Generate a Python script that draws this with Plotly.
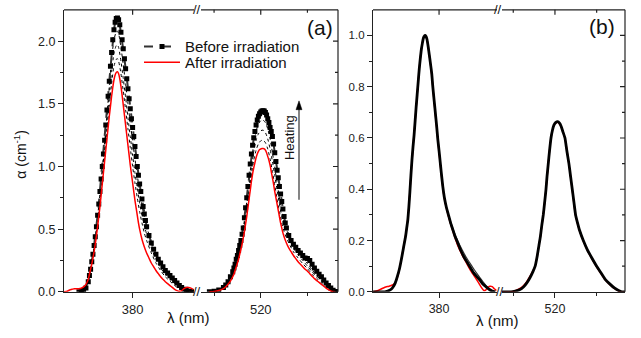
import plotly.graph_objects as go

W, H = 641, 338
FONT = "Liberation Sans, Arial, sans-serif"

# ---------------- Panel (a): absorption, band 1 (~373 nm) ----------------
before_b1_x = [357, 358, 359, 360, 361, 361.5, 362, 362.5, 363, 363.5, 364, 364.5, 365, 365.5, 366, 366.5,
               367, 367.5, 368, 368.5, 369, 369.5, 370, 370.5, 371, 371.5, 372, 372.5, 373, 373.5, 374,
               374.5, 375, 375.5, 376, 376.5, 377, 377.5, 378, 378.5, 379, 379.5, 380, 380.5, 381, 381.5,
               382, 382.5, 383, 383.5, 384, 384.5, 385, 385.5, 386, 387, 388, 389, 390, 391, 392, 393, 394,
               395, 396, 397, 398, 399, 400, 401, 402, 403, 404, 405, 406]
before_b1_y = [0.0, 0.0, 0.01, 0.03, 0.08, 0.13, 0.18, 0.24, 0.30, 0.37, 0.44, 0.52, 0.61, 0.70, 0.80, 0.90,
               1.00, 1.10, 1.21, 1.33, 1.45, 1.56, 1.68, 1.80, 1.91, 2.01, 2.09, 2.15, 2.18, 2.185, 2.17,
               2.13, 2.07, 2.01, 1.94, 1.86, 1.78, 1.70, 1.62, 1.54, 1.46, 1.38, 1.31, 1.24, 1.16, 1.08,
               1.00, 0.93, 0.86, 0.80, 0.74, 0.68, 0.62, 0.57, 0.52, 0.45, 0.39, 0.34, 0.30, 0.26, 0.23, 0.20, 0.17,
               0.15, 0.13, 0.11, 0.09, 0.07, 0.05, 0.035, 0.02, 0.01, 0.005, 0.0, 0.0]

after_b1_x = [350.6, 352, 353, 354, 355, 356, 357, 358, 359, 360, 361, 361.5, 362, 362.5, 363, 363.5, 364,
              364.5, 365, 365.5, 366, 366.5, 367, 367.5, 368, 368.5, 369, 369.5, 370, 370.5, 371, 371.5,
              372, 372.5, 373, 373.5, 374, 374.5, 375, 375.5, 376, 376.5, 377, 377.5, 378, 378.5, 379,
              379.5, 380, 380.5, 381, 381.5, 382, 382.5, 383, 384, 385, 386, 387, 388, 389, 390, 391, 392,
              393, 394, 395, 396, 397, 398, 399, 400, 401, 402, 403, 404, 405, 406]
after_b1_y = [0.0, 0.005, 0.015, 0.02, 0.025, 0.025, 0.025, 0.03, 0.04, 0.06, 0.10, 0.14, 0.18, 0.22, 0.27,
              0.32, 0.38, 0.45, 0.52, 0.60, 0.68, 0.77, 0.86, 0.95, 1.04, 1.13, 1.22, 1.31, 1.40, 1.48,
              1.56, 1.63, 1.69, 1.73, 1.75, 1.755, 1.74, 1.70, 1.64, 1.57, 1.49, 1.41, 1.33, 1.25, 1.17,
              1.09, 1.01, 0.94, 0.87, 0.80, 0.73, 0.67, 0.61, 0.55, 0.50, 0.42, 0.36, 0.31, 0.27, 0.23,
              0.20, 0.17, 0.145, 0.12, 0.10, 0.08, 0.065, 0.05, 0.035, 0.02, 0.01, 0.005, 0.01, 0.025,
              0.035, 0.035, 0.03, 0.02]

heat_b1_x = [358, 360, 361, 362, 363, 364, 365, 366, 367, 368, 369, 370, 371, 372, 373, 373.5, 374, 375,
             376, 377, 378, 379, 380, 381, 382, 383, 384, 385, 386, 388, 390, 392, 394, 396, 398, 400, 402, 404]
heat1_b1_y = [0.02, 0.05, 0.10, 0.18, 0.28, 0.40, 0.55, 0.72, 0.90, 1.09, 1.29, 1.48, 1.66, 1.80, 1.855,
              1.86, 1.84, 1.74, 1.60, 1.45, 1.30, 1.15, 1.00, 0.87, 0.75, 0.64, 0.55, 0.47, 0.41, 0.31,
              0.23, 0.17, 0.12, 0.085, 0.05, 0.025, 0.01, 0.0]
heat2_b1_y = [0.015, 0.04, 0.09, 0.18, 0.29, 0.42, 0.58, 0.76, 0.95, 1.15, 1.36, 1.57, 1.76, 1.90, 1.965,
              1.97, 1.95, 1.84, 1.70, 1.55, 1.39, 1.24, 1.09, 0.95, 0.83, 0.71, 0.61, 0.53, 0.46, 0.35,
              0.26, 0.19, 0.14, 0.10, 0.065, 0.035, 0.015, 0.0]
heat3_b1_y = [0.01, 0.035, 0.085, 0.18, 0.29, 0.43, 0.60, 0.78, 0.98, 1.19, 1.41, 1.64, 1.86, 2.01, 2.075,
              2.08, 2.06, 1.95, 1.81, 1.66, 1.50, 1.35, 1.20, 1.06, 0.93, 0.80, 0.69, 0.60, 0.52, 0.40,
              0.30, 0.22, 0.16, 0.115, 0.075, 0.04, 0.02, 0.005]

# ---------------- Panel (a): absorption, band 2 (~521 nm) ----------------
before_b2_x = [498, 500, 502, 504, 505, 506, 507, 508, 508.5, 509, 509.5, 510, 510.5, 511, 511.5, 512, 512.5,
               513, 513.5, 514, 514.5, 515, 515.5, 516, 516.5, 517, 517.5, 518, 518.5, 519, 519.5, 520,
               520.5, 521, 521.5, 522, 522.5, 523, 523.5, 524, 524.5, 525, 525.5, 526, 526.5, 527, 527.5,
               528, 528.5, 529, 529.5, 530, 530.5, 531, 532, 533, 534, 535, 536, 537, 538, 539, 540, 541,
               542, 543, 544, 545, 546, 547, 548, 549, 550, 551, 552, 553]
before_b2_y = [0.0, 0.005, 0.015, 0.035, 0.055, 0.08, 0.12, 0.16, 0.19, 0.22, 0.26, 0.29, 0.33, 0.37, 0.41,
               0.46, 0.51, 0.59, 0.67, 0.75, 0.84, 0.93, 1.02, 1.10, 1.17, 1.23, 1.28, 1.33, 1.37, 1.40,
               1.42, 1.435, 1.443, 1.445, 1.443, 1.43, 1.41, 1.38, 1.35, 1.31, 1.28, 1.24, 1.18, 1.11,
               1.04, 0.97, 0.91, 0.84, 0.78, 0.72, 0.66, 0.60, 0.55, 0.51, 0.45, 0.41, 0.38, 0.355, 0.33,
               0.31, 0.29, 0.27, 0.265, 0.25, 0.22, 0.19, 0.165, 0.14, 0.12, 0.095, 0.07, 0.05, 0.03,
               0.012, 0.003, 0.0]

after_b2_x = [498, 500, 502, 504, 505, 506, 507, 508, 508.5, 509, 509.5, 510, 510.5, 511, 511.5, 512, 512.5,
              513, 513.5, 514, 514.5, 515, 515.5, 516, 516.5, 517, 517.5, 518, 518.5, 519, 519.5, 520,
              520.5, 521, 521.5, 522, 522.5, 523, 523.5, 524, 524.5, 525, 525.5, 526, 526.5, 527, 527.5,
              528, 528.5, 529, 529.5, 530, 531, 532, 533, 534, 535, 536, 537, 538, 539, 540, 541, 542,
              543, 544, 545, 546, 547, 548, 549, 550, 551, 552]
after_b2_y = [0.0, 0.003, 0.01, 0.025, 0.04, 0.06, 0.085, 0.12, 0.14, 0.17, 0.20, 0.23, 0.26, 0.30, 0.34,
              0.38, 0.43, 0.48, 0.54, 0.60, 0.67, 0.74, 0.81, 0.88, 0.94, 0.99, 1.03, 1.07, 1.10, 1.12,
              1.135, 1.14, 1.143, 1.143, 1.14, 1.13, 1.11, 1.08, 1.05, 1.01, 0.96, 0.91, 0.86, 0.80, 0.75,
              0.70, 0.65, 0.60, 0.55, 0.51, 0.47, 0.44, 0.39, 0.35, 0.32, 0.29, 0.265, 0.24, 0.22, 0.20,
              0.18, 0.165, 0.145, 0.125, 0.105, 0.09, 0.075, 0.06, 0.045, 0.03, 0.018, 0.008, 0.002, 0.0]

heat_b2_x = [500, 504, 506, 508, 510, 511, 512, 513, 514, 515, 516, 517, 518, 519, 520, 521, 522, 523, 524,
             525, 526, 527, 528, 529, 530, 532, 534, 536, 538, 540, 542, 544, 546, 548, 550, 552]
heat1_b2_y = [0.0, 0.03, 0.07, 0.14, 0.26, 0.33, 0.42, 0.52, 0.65, 0.79, 0.93, 1.05, 1.13, 1.18, 1.205,
              1.21, 1.19, 1.14, 1.06, 0.96, 0.85, 0.74, 0.64, 0.55, 0.48, 0.39, 0.32, 0.27, 0.225, 0.185,
              0.14, 0.10, 0.07, 0.04, 0.015, 0.0]
heat2_b2_y = [0.0, 0.03, 0.075, 0.15, 0.27, 0.35, 0.44, 0.55, 0.69, 0.84, 0.99, 1.12, 1.21, 1.26, 1.285,
              1.29, 1.27, 1.22, 1.14, 1.04, 0.93, 0.81, 0.70, 0.60, 0.52, 0.42, 0.35, 0.295, 0.25, 0.205,
              0.16, 0.115, 0.08, 0.05, 0.02, 0.0]
heat3_b2_y = [0.0, 0.035, 0.08, 0.16, 0.28, 0.36, 0.45, 0.57, 0.72, 0.88, 1.04, 1.18, 1.28, 1.34, 1.365,
              1.37, 1.35, 1.30, 1.22, 1.11, 0.99, 0.87, 0.75, 0.65, 0.56, 0.45, 0.37, 0.315, 0.27, 0.225,
              0.175, 0.13, 0.09, 0.055, 0.025, 0.0]

# ---------------- Panel (b): normalised spectra ----------------
norm_black_b1_x = [348.3, 354, 356, 357, 358, 359, 360, 361, 362, 363, 364, 364.5, 365, 365.5, 366, 366.5,
                   367, 367.5, 368, 368.5, 369, 369.5, 370, 370.5, 371, 371.5, 372, 372.5, 373, 373.3,
                   373.7, 374.2, 374.8, 375.3, 375.8, 376.5, 377, 377.6, 378.2, 378.8, 379.4, 380, 380.5,
                   381, 381.8, 382.5, 383.5, 384.5, 385.5, 386.5, 387.5, 389, 390.5, 392, 393.5, 395,
                   396.5, 398, 399.7, 401, 402.5, 404, 405.5, 407]
norm_black_b1_y = [0.0, 0.0, 0.005, 0.01, 0.02, 0.035, 0.06, 0.09, 0.13, 0.175, 0.22, 0.25, 0.28, 0.33,
                   0.39, 0.455, 0.515, 0.565, 0.61, 0.665, 0.72, 0.77, 0.82, 0.87, 0.91, 0.945, 0.97,
                   0.99, 0.998, 1.0, 0.997, 0.985, 0.955, 0.925, 0.895, 0.85, 0.80, 0.75, 0.70, 0.65,
                   0.595, 0.55, 0.51, 0.47, 0.41, 0.37, 0.33, 0.30, 0.27, 0.245, 0.22, 0.19, 0.16, 0.135,
                   0.115, 0.095, 0.075, 0.06, 0.045, 0.03, 0.02, 0.01, 0.003, 0.0]
norm_black2_b1_x = [384.5, 386.5, 389, 391, 393, 395, 397, 399, 401, 403, 405]
norm_black2_b1_y = [0.30, 0.25, 0.198, 0.165, 0.135, 0.11, 0.085, 0.062, 0.04, 0.02, 0.005]

norm_red_b1_x = [348.5, 350, 352, 354, 356, 358, 359.5, 360.5, 361.5, 362.5, 363.5, 364.5, 365.5, 366.5,
                 367.5, 368.5, 369.5, 370.5, 371.5, 372.5, 373.3, 374.2, 375.3, 376.5, 377.6, 378.8, 380,
                 381, 382.5, 384.5, 386.5, 389, 391, 393, 395, 397, 399, 400.5, 401.5, 402.5, 403.5,
                 404.5, 405.5, 406.5, 407.5]
norm_red_b1_y = [0.0, 0.003, 0.01, 0.018, 0.022, 0.028, 0.045, 0.07, 0.11, 0.155, 0.20, 0.25, 0.33, 0.455,
                 0.565, 0.665, 0.77, 0.87, 0.945, 0.99, 1.0, 0.985, 0.925, 0.845, 0.745, 0.645, 0.545,
                 0.465, 0.365, 0.295, 0.24, 0.18, 0.145, 0.115, 0.085, 0.06, 0.035, 0.015, 0.005, 0.008,
                 0.018, 0.022, 0.02, 0.012, 0.005]

norm_black_b2_x = [494.6, 499, 501, 503, 505, 506.5, 508, 509.5, 510.5, 511.5, 512.3, 513, 513.7, 514.4,
                   515, 515.7, 516.2, 516.8, 517.4, 518.1, 518.8, 519.5, 520.3, 521.3, 522.2, 523, 523.8,
                   524.8, 525.7, 526.7, 527.5, 528.3, 529.1, 529.9, 530.8, 531.8, 533.6, 535.5, 537.5,
                   540, 542, 544, 546.4, 548.5, 550.5, 552, 553.6]
norm_black_b2_y = [0.0, 0.0, 0.003, 0.008, 0.02, 0.035, 0.055, 0.08, 0.10, 0.14, 0.18, 0.215, 0.26, 0.30,
                   0.345, 0.40, 0.45, 0.50, 0.55, 0.60, 0.63, 0.65, 0.66, 0.664, 0.658, 0.645, 0.625, 0.60,
                   0.55, 0.50, 0.45, 0.40, 0.35, 0.30, 0.27, 0.24, 0.20, 0.165, 0.135, 0.10, 0.075, 0.05,
                   0.03, 0.015, 0.005, 0.0, 0.0]
norm_red_b2_x = [494.6, 499, 501, 503, 505, 506.5, 508, 509.5, 510.5, 511.5, 512.3, 513, 514.4, 515.7,
                 516.8, 518.1, 519.5, 520.3, 521.3, 522.2, 523, 524.8, 526.7, 528.3, 529.9, 531.8, 533.6,
                 535.5, 537.5, 540, 542, 544, 546.4, 548.5, 550.5, 552, 553.6]
norm_red_b2_y = [0.0, 0.0, 0.004, 0.012, 0.025, 0.04, 0.06, 0.083, 0.10, 0.14, 0.18, 0.215, 0.30, 0.40,
                 0.50, 0.60, 0.65, 0.658, 0.661, 0.655, 0.643, 0.598, 0.498, 0.398, 0.298, 0.238, 0.198,
                 0.163, 0.132, 0.097, 0.072, 0.048, 0.028, 0.013, 0.004, 0.0, 0.0]

# tick values
ticks_seg1 = [380]
ticks_seg2 = [520]
minor_seg2 = [500, 540]
yticks_a_major = [0.0, 0.5, 1.0, 1.5, 2.0]
yticks_a_minor = [0.25, 0.75, 1.25, 1.75]
yticks_b_major = [0.0, 0.2, 0.4, 0.6, 0.8, 1.0]
yticks_b_minor = [0.1, 0.3, 0.5, 0.7, 0.9]


def fx(px):
    return px / W


def fy(py):
    return 1 - py / H


fig = go.Figure()

BLACK = "#000000"
RED = "#ff0000"
AXC = "#222222"

# ---- panel (a) traces ----
for xs, ys, xa in [(heat_b1_x, heat1_b1_y, "x"), (heat_b1_x, heat2_b1_y, "x"), (heat_b1_x, heat3_b1_y, "x"),
                   (heat_b2_x, heat1_b2_y, "x2"), (heat_b2_x, heat2_b2_y, "x2"), (heat_b2_x, heat3_b2_y, "x2")]:
    fig.add_trace(go.Scatter(x=xs, y=ys, xaxis=xa, yaxis="y", mode="lines", showlegend=False,
                             line=dict(color=BLACK, width=1, dash="dot", shape="spline", smoothing=0.6),
                             hoverinfo="skip"))

fig.add_trace(go.Scatter(x=before_b1_x, y=before_b1_y, xaxis="x", yaxis="y", mode="lines+markers",
                         name="Before irradiation", legend="legend",
                         line=dict(color="#333333", width=2, dash="dash"),
                         marker=dict(symbol="square", size=5, color=BLACK)))
fig.add_trace(go.Scatter(x=before_b2_x, y=before_b2_y, xaxis="x2", yaxis="y", mode="lines+markers",
                         name="Before irradiation", showlegend=False,
                         line=dict(color="#333333", width=2, dash="dash"),
                         marker=dict(symbol="square", size=5, color=BLACK)))
fig.add_trace(go.Scatter(x=after_b1_x, y=after_b1_y, xaxis="x", yaxis="y", mode="lines",
                         name="After irradiation", legend="legend2",
                         line=dict(color=RED, width=1.5, shape="spline", smoothing=0.5)))
fig.add_trace(go.Scatter(x=after_b2_x, y=after_b2_y, xaxis="x2", yaxis="y", mode="lines",
                         name="After irradiation", showlegend=False,
                         line=dict(color=RED, width=1.5, shape="spline", smoothing=0.5)))

# ---- panel (b) traces ----
fig.add_trace(go.Scatter(x=norm_red_b1_x, y=norm_red_b1_y, xaxis="x3", yaxis="y2", mode="lines",
                         showlegend=False, line=dict(color=RED, width=1.5, shape="spline", smoothing=0.5)))
fig.add_trace(go.Scatter(x=norm_red_b2_x, y=norm_red_b2_y, xaxis="x4", yaxis="y2", mode="lines",
                         showlegend=False, line=dict(color=RED, width=1.5, shape="spline", smoothing=0.5)))
fig.add_trace(go.Scatter(x=norm_black2_b1_x, y=norm_black2_b1_y, xaxis="x3", yaxis="y2", mode="lines",
                         showlegend=False, line=dict(color="#333333", width=1.2, shape="spline", smoothing=0.5)))
fig.add_trace(go.Scatter(x=norm_black_b1_x, y=norm_black_b1_y, xaxis="x3", yaxis="y2", mode="lines",
                         showlegend=False, line=dict(color=BLACK, width=2.8, shape="spline", smoothing=0.5)))
fig.add_trace(go.Scatter(x=norm_black_b2_x, y=norm_black_b2_y, xaxis="x4", yaxis="y2", mode="lines",
                         showlegend=False, line=dict(color=BLACK, width=2.8, shape="spline", smoothing=0.5)))


def xbottom(domain, rng, anchor, tickvals, minorvals, fs=13):
    d = dict(showline=True, linecolor=AXC, linewidth=1.2, showgrid=False, zeroline=False,
             domain=domain, range=rng, autorange=False, anchor=anchor, side="bottom",
             ticks="outside", ticklen=5, tickcolor=AXC, tickwidth=1.2,
             tickmode="array", tickvals=tickvals, tickfont=dict(family=FONT, size=fs, color=AXC))
    if minorvals:
        d["minor"] = dict(tickmode="array", tickvals=minorvals, ticks="outside", ticklen=3,
                          tickcolor=AXC, tickwidth=1.2)
    return d


def yleft(rng, anchor, major, minor, fs):
    return dict(showline=True, linecolor=AXC, linewidth=1.2, showgrid=False, zeroline=False,
                domain=YDOM, range=rng, autorange=False, anchor=anchor, side="left",
                ticks="outside", ticklen=5, tickcolor=AXC, tickwidth=1.2,
                tickmode="array", tickvals=major, ticktext=["%.1f" % v for v in major],
                tickfont=dict(family=FONT, size=fs, color=AXC),
                minor=dict(tickmode="array", tickvals=minor, ticks="outside", ticklen=3,
                           tickcolor=AXC, tickwidth=1.2))


YDOM = [fy(298), fy(10)]
ra1, ra2 = [350.6, 406.3], [494.4, 553.1]
rb1, rb2 = [348.3, 407.8], [494.6, 553.6]

fig.update_layout(
    width=W, height=H, margin=dict(l=0, r=0, t=0, b=0),
    paper_bgcolor="white", plot_bgcolor="white",
    font=dict(family=FONT, color="#111111"),
    xaxis=xbottom([fx(64), fx(194)], ra1, "y", ticks_seg1, None),
    xaxis2=xbottom([fx(201), fx(338)], ra2, "y", ticks_seg2, minor_seg2),
    yaxis=yleft([0, 2.25], "x", yticks_a_major, yticks_a_minor, 12.5),
    xaxis3=xbottom([fx(373), fx(497)], rb1, "y2", ticks_seg1, None, fs=12.5),
    xaxis4=xbottom([fx(502), fx(625)], rb2, "y2", ticks_seg2, minor_seg2, fs=12.5),
    yaxis2=yleft([0, 1.1], "x3", yticks_b_major, yticks_b_minor, 11.5),
    legend=dict(x=fx(139), y=fy(31), xanchor="left", yanchor="top", bgcolor="rgba(0,0,0,0)",
                font=dict(family=FONT, size=15, color="#111111"), itemwidth=36),
    legend2=dict(x=fx(139), y=fy(47), xanchor="left", yanchor="top", bgcolor="rgba(0,0,0,0)",
                 font=dict(family=FONT, size=15, color="#111111"), itemwidth=36),
    showlegend=True,
)

# ---- frame (top / right edges) and inward ticks drawn as shapes ----
LW = dict(color=AXC, width=1.2)
for x0, x1 in [(64, 194), (201, 338), (373, 497), (502, 625)]:
    fig.add_shape(type="line", xref="paper", yref="paper", x0=fx(x0), x1=fx(x1), y0=fy(10), y1=fy(10), line=LW)
for xr_px in [338, 625]:
    fig.add_shape(type="line", xref="paper", yref="paper", x0=fx(xr_px), x1=fx(xr_px), y0=fy(10), y1=fy(298),
                  line=LW)

top_len_major, top_len_minor = 5 / H, 3 / H
for xref, vals, ln in [("x", ticks_seg1, top_len_major), ("x2", ticks_seg2, top_len_major),
                       ("x2", minor_seg2, top_len_minor), ("x3", ticks_seg1, top_len_major),
                       ("x4", ticks_seg2, top_len_major), ("x4", minor_seg2, top_len_minor)]:
    for v in vals:
        fig.add_shape(type="line", xref=xref, yref="paper", x0=v, x1=v, y0=fy(10), y1=fy(10) - ln, line=LW)

for yref, right_px, vals, ln in [("y", 338, yticks_a_major, 5), ("y", 338, yticks_a_minor, 3),
                                 ("y2", 625, yticks_b_major, 5), ("y2", 625, yticks_b_minor, 3)]:
    for v in vals:
        fig.add_shape(type="line", xref="paper", yref=yref, x0=fx(right_px), x1=fx(right_px - ln),
                      y0=v, y1=v, line=LW)


def note(text, px, py, size, angle=0, color="#111111"):
    fig.add_annotation(text=text, x=fx(px), y=fy(py), xref="paper", yref="paper", showarrow=False,
                       xanchor="center", yanchor="middle", textangle=angle,
                       font=dict(family=FONT, size=size, color=color))


note("(a)", 320, 28, 21)
note("(b)", 602, 27, 21)
note("Heating", 289, 141, 13, angle=-90)
note("α (cm<sup>-1</sup>)", 20, 158, 14, angle=-90)
note("λ (nm)", 188, 324, 15)
note("λ (nm)", 497, 327, 15)
for bx, by in [(197, 10), (197, 298), (498, 10), (500, 298)]:
    note("//", bx, by, 13)

# Heating arrow (line + head)
fig.add_shape(type="line", xref="paper", yref="paper", x0=fx(299), x1=fx(299), y0=fy(204), y1=fy(110),
              line=dict(color="#666666", width=1.6))
fig.add_shape(type="path", xref="paper", yref="paper",
              path="M %f %f L %f %f L %f %f Z" % (fx(296), fy(112), fx(302), fy(112), fx(299), fy(103)),
              fillcolor="#000000", line=dict(color="#000000", width=0.5))

fig.write_html("out.html", config={"displayModeBar": False},
               post_script="document.body.style.margin='0';")
